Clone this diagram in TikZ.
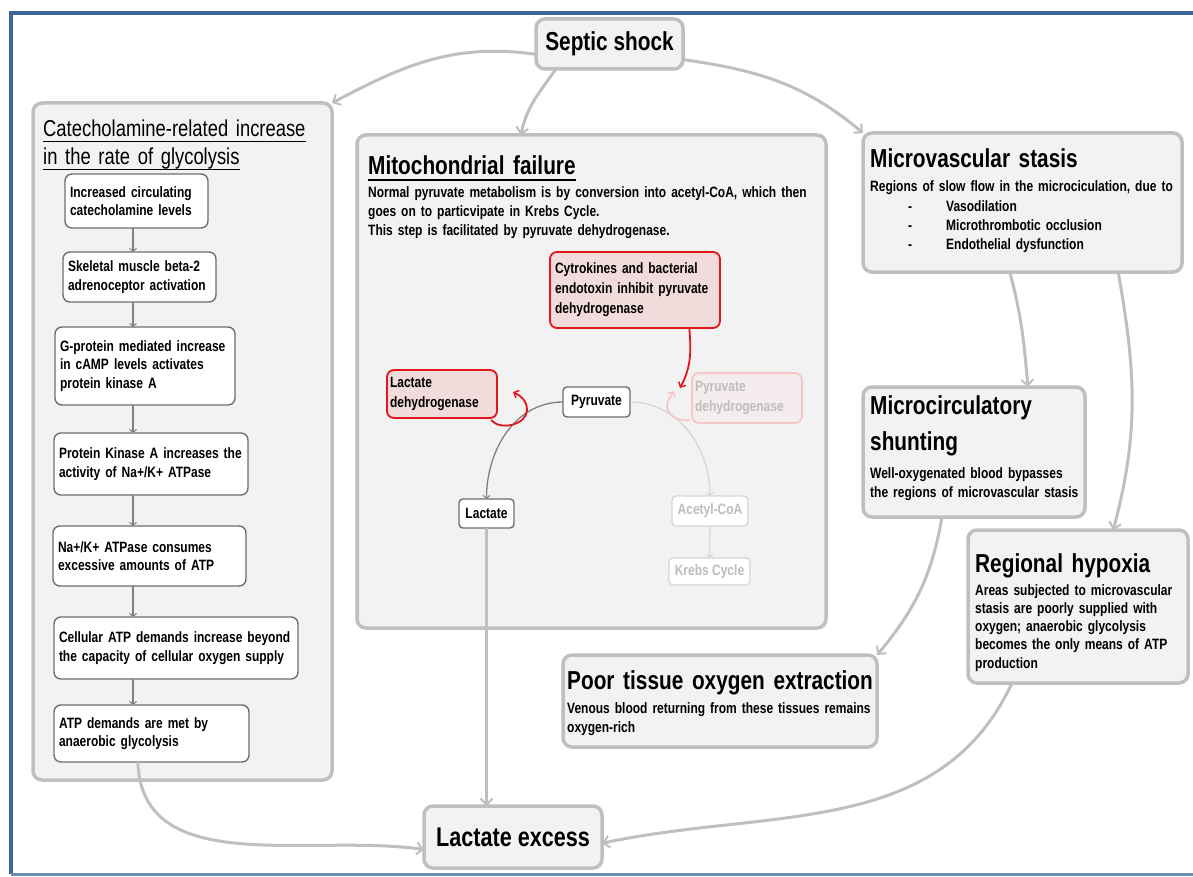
\documentclass[tikz,border=0pt]{standalone}
\usepackage{fontspec}
\setmainfont{Liberation Sans}[FakeStretch=0.8]
\usetikzlibrary{arrows.meta,calc}

\definecolor{frameblue}{HTML}{3D6698}
\definecolor{panelfill}{HTML}{F2F2F2}
\definecolor{paneledge}{HTML}{BFBFBF}
\definecolor{stepedge}{HTML}{6E6E6E}
\definecolor{linkgray}{HTML}{BFBFBF}
\definecolor{pathgray}{HTML}{808080}
\definecolor{fadegray}{HTML}{D6D6D6}
\definecolor{fadetext}{HTML}{BDBDBD}
\definecolor{enzred}{HTML}{E0161B}
\definecolor{enzfill}{HTML}{F2DCDB}
\definecolor{fadepink}{HTML}{F6C6C6}
\definecolor{fadepinkfill}{HTML}{F5EDED}

\newcommand{\titlefont}{\fontsize{26}{36}\selectfont\bfseries}
\newcommand{\bodyfont}{\fontsize{15}{18.5}\selectfont\bfseries}
% #1 rule thickness, #2 gap below baseline, #3 text
\newcommand{\ulinetext}[3]{\vtop{\hbox{\raisebox{0pt}[\height][0pt]{#3}}\kern#2\hrule height #1}}

\tikzset{
  panel/.style={draw=paneledge, line width=3.5pt, fill=panelfill, rounded corners=9pt,
    anchor=north west, outer sep=0pt, inner sep=0pt, font=\titlefont},
  textblock/.style={anchor=base west, inner sep=0pt, align=left},
  stepbox/.style={draw=stepedge, line width=1.4pt, fill=white, rounded corners=7pt,
    anchor=north west, outer sep=0pt, inner xsep=5pt, inner ysep=4pt, align=left, font=\bodyfont},
  pathbox/.style={draw=stepedge, line width=1.4pt, fill=white, rounded corners=4pt,
    anchor=north west, outer sep=0pt, inner sep=0pt, font=\bodyfont},
  fadebox/.style={pathbox, draw=fadegray, text=fadetext},
  enzbox/.style={draw=enzred, line width=1.8pt, fill=enzfill, rounded corners=7pt,
    anchor=north west, outer sep=0pt, inner xsep=5pt, inner ysep=2pt, align=left,
    font=\fontsize{15}{20}\selectfont\bfseries},
  fadeenz/.style={enzbox, draw=fadepink, fill=fadepinkfill, text=fadetext},
  link/.style={draw=linkgray, line width=3pt,
    -{Straight Barb[length=6pt,width=12pt,line width=2pt]}},
  steplink/.style={draw=pathgray, line width=1.3pt,
    -{Straight Barb[length=3pt,width=7pt,line width=1pt]}},
  fadelink/.style={steplink, draw=fadegray},
  redlink/.style={draw=enzred, line width=1.8pt,
    -{Straight Barb[length=4pt,width=8pt,line width=1.5pt]}},
  fadered/.style={redlink, draw=fadepink},
}

\begin{document}
\begin{tikzpicture}[x=1pt,y=1pt]
\useasboundingbox (0,0) rectangle (1193,-877);
\draw[frameblue, line width=4pt] (1193,-13) -- (11,-13) -- (11,-874);
\draw[frameblue!75, line width=3pt] (11,-874) -- (1193,-874);

% top and bottom
\node[panel, minimum width=147pt, minimum height=50pt] (septic) at (536,-19) {Septic shock};
\node[panel, minimum width=178pt, minimum height=62pt, font=\fontsize{27}{30}\selectfont\bfseries]
  (lacex) at (424,-806) {Lactate excess};

% catecholamines
\node[panel, minimum width=299pt, minimum height=677pt] (cate) at (33,-103) {};
\node[textblock, text width=290pt, font=\fontsize{23}{28}\selectfont] (catetitle) at (43,-137)
  {\ulinetext{1.4pt}{4pt}{Catecholamine-related increase}\\\ulinetext{1.4pt}{4pt}{in the rate of glycolysis}};
\node[stepbox, text width=133pt, minimum height=54pt] (s1) at (65,-174) {Increased circulating\\catecholamine levels};
\node[stepbox, text width=143pt, minimum height=50pt] (s2) at (63,-252) {Skeletal muscle beta-2\\adrenoceptor activation};
\node[stepbox, text width=170pt, minimum height=78pt] (s3) at (55,-327) {G-protein mediated increase\\in cAMP levels activates\\protein kinase A};
\node[stepbox, text width=184pt, minimum height=62pt] (s4) at (54,-433) {Protein Kinase A increases the\\activity of Na+/K+ ATPase};
\node[stepbox, text width=183pt, minimum height=60pt] (s5) at (53,-526) {Na+/K+ ATPase consumes\\excessive amounts of ATP};
\node[stepbox, text width=234pt, minimum height=62pt] (s6) at (54,-617) {Cellular ATP demands increase beyond\\the capacity of cellular oxygen supply};
\node[stepbox, text width=185pt, minimum height=57pt] (s7) at (54,-705) {ATP demands are met by\\anaerobic glycolysis};
\coordinate (spine) at (133,0);
\foreach \a/\b in {s1/s2,s2/s3,s3/s4,s4/s5,s5/s6,s6/s7}
  \draw[steplink] (\a.south -| spine) -- (\b.north -| spine);

% mitochondria
\node[panel, minimum width=469pt, minimum height=493pt] (mito) at (357,-135) {};
\node[textblock, text width=300pt, font=\titlefont] (mitotitle) at (368,-175)
  {\ulinetext{2.2pt}{4pt}{Mitochondrial failure}};
\node[textblock, text width=450pt, font=\fontsize{15}{19}\selectfont\bfseries] (mitotext) at (368,-198)
  {Normal pyruvate metabolism is by conversion into acetyl-CoA, which then\\
   goes on to particvipate in Krebs Cycle.\\
   This step is facilitated by pyruvate dehydrogenase.};
\node[enzbox, text width=160pt, minimum height=76pt] (cyto) at (550,-252)
  {Cytrokines and bacterial\\endotoxin inhibit pyruvate\\dehydrogenase};
\node[enzbox, text width=104pt, minimum height=48pt, inner xsep=3pt] (ldh) at (387,-370) {Lactate\\dehydrogenase};
\node[pathbox, minimum width=67pt, minimum height=30pt] (pyr) at (563,-387) {Pyruvate};
\node[fadeenz, text width=104pt, minimum height=50pt, inner xsep=3pt] (pdh) at (692,-373) {Pyruvate\\dehydrogenase};
\node[pathbox, minimum width=55pt, minimum height=29pt] (lac) at (459,-499) {Lactate};
\node[fadebox, minimum width=76pt, minimum height=30pt] (acoa) at (672,-496) {Acetyl-CoA};
\node[fadebox, minimum width=81pt, minimum height=27pt] (krebs) at (669,-558) {Krebs Cycle};
\coordinate (pdhblock) at (680,-388);
\coordinate (ldhtip) at (513,-392);
\coordinate (pdhtip) at (674,-391);

\draw[steplink] (pyr.west) to[out=180,in=90] (lac.north);
\draw[fadelink] (pyr.east) to[out=0,in=90] (acoa.north);
\draw[fadelink] (acoa.south) -- (krebs.north);
\draw[redlink] (cyto.-35) to[out=-85,in=62] (pdhblock);
\draw[redlink] ($(ldh.south east)+(-6,-2)$) to[out=-50,in=-90] (527,-410) to[out=90,in=-25] (ldhtip);
\draw[fadered] ($(pdh.south west)+(-2,3)$) to[out=190,in=-90] (667,-406) to[out=90,in=-120] (pdhtip);

% microcirculation
\node[panel, minimum width=319pt, minimum height=139pt] (mvs) at (863,-133) {};
\node[textblock, text width=300pt, font=\titlefont] (mvstitle) at (870,-168) {Microvascular stasis};
\node[textblock, text width=312pt, font=\fontsize{15}{19.3}\selectfont\bfseries] (mvstext) at (870,-192)
  {Regions of slow flow in the microciculation, due to\\
   \hspace*{38pt}\makebox[38pt][l]{-}Vasodilation\\
   \hspace*{38pt}\makebox[38pt][l]{-}Microthrombotic occlusion\\
   \hspace*{38pt}\makebox[38pt][l]{-}Endothelial dysfunction};

\node[panel, minimum width=222pt, minimum height=130pt] (mcs) at (863,-387) {};
\node[textblock, text width=212pt, font=\titlefont] (mcstitle) at (870,-414) {Microcirculatory\\shunting};
\node[textblock, text width=212pt, font=\fontsize{15}{19}\selectfont\bfseries] (mcstext) at (870,-478)
  {Well-oxygenated blood bypasses\\the regions of microvascular stasis};

\node[panel, minimum width=220pt, minimum height=153pt] (rh) at (968,-530) {};
\node[textblock, text width=212pt, font=\titlefont] (rhtitle) at (975,-572) {Regional hypoxia};
\node[textblock, text width=210pt, font=\fontsize{15}{18.3}\selectfont\bfseries] (rhtext) at (975,-595)
  {Areas subjected to microvascular\\stasis are poorly supplied with\\oxygen; anaerobic glycolysis\\becomes the only means of ATP\\production};

\node[panel, minimum width=314pt, minimum height=92pt] (pte) at (563,-655) {};
\node[textblock, text width=310pt, font=\titlefont] (ptetitle) at (567,-689) {Poor tissue oxygen extraction};
\node[textblock, text width=305pt, font=\fontsize{15}{19}\selectfont\bfseries] (ptetext) at (567,-713)
  {Venous blood returning from these tissues remains\\oxygen-rich};

% connectors
\draw[link] (septic.188) to[out=172,in=28] (cate.north east);
\draw[link] (septic.205) to[out=-125,in=78] (mito.106.6);
\draw[link] (septic.-12) to[out=-8,in=140] (mvs.north west);
\draw[link] ($(mvs.south west)!0.46!(mvs.south east)$) to[out=-75,in=95] ($(mcs.north west)!0.743!(mcs.north east)$);
\draw[link] ($(mvs.south west)!0.80!(mvs.south east)$) to[out=-80,in=75] ($(rh.north west)!0.66!(rh.north east)$);
\draw[link] ($(mcs.south west)!0.356!(mcs.south east)$) to[out=-100,in=50] (pte.north east);
\draw[link] ($(rh.south west)!0.2!(rh.south east)$) to[out=-115,in=12] (lacex.-4);
\draw[link] ($(s7.south west)!0.43!(s7.south east)$) to[out=-88,in=172] (lacex.188);
\draw[link] (lac.south) -- (lac.south |- lacex.north);
\end{tikzpicture}
\end{document}
